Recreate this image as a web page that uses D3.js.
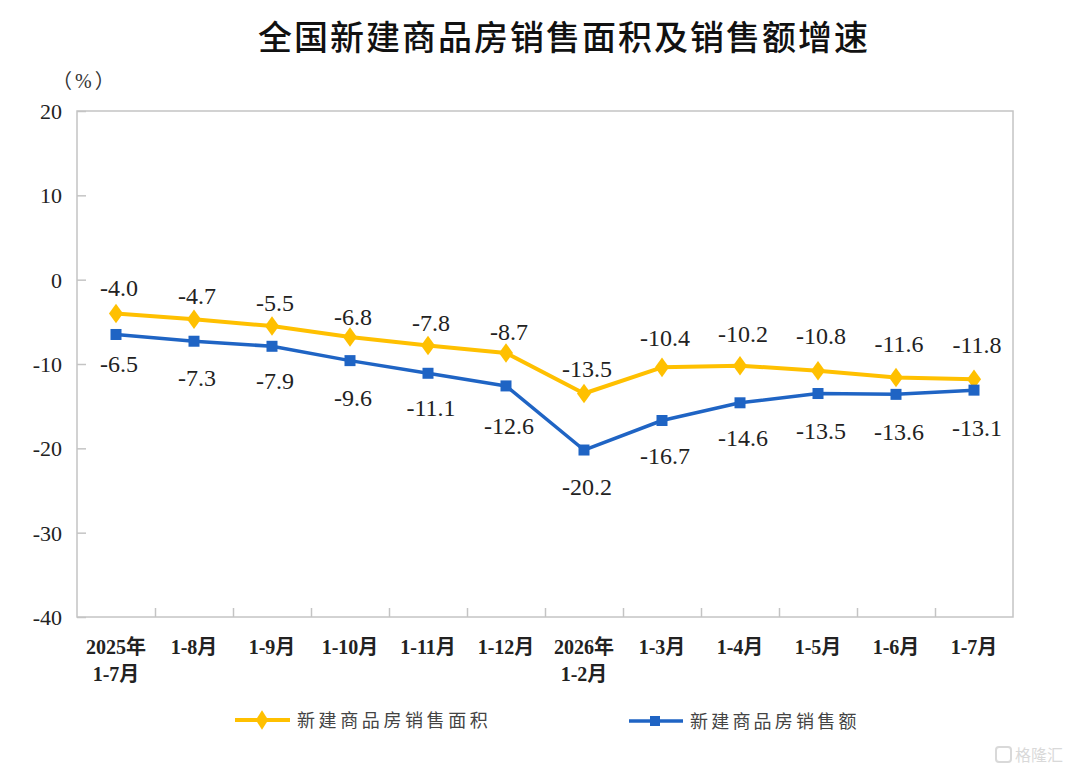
<!DOCTYPE html>
<html><head><meta charset="utf-8">
<script src="https://cdn.jsdelivr.net/npm/d3@7"></script>
<style>
html,body{margin:0;padding:0;background:#fff;}
svg{display:block;}
</style></head>
<body>
<svg id="chart" width="1080" height="776"></svg>
<script>
// ---- data ----
const categories = [["2025年","1-7月"],["1-8月"],["1-9月"],["1-10月"],["1-11月"],["1-12月"],["2026年","1-2月"],["1-3月"],["1-4月"],["1-5月"],["1-6月"],["1-7月"]];
const areaGrowth  = [-4.0,-4.7,-5.5,-6.8,-7.8,-8.7,-13.5,-10.4,-10.2,-10.8,-11.6,-11.8];
const salesGrowth = [-6.5,-7.3,-7.9,-9.6,-11.1,-12.6,-20.2,-16.7,-14.6,-13.5,-13.6,-13.1];
const yTicks = [20,10,0,-10,-20,-30,-40];
const seriesNames = ["新建商品房销售面积","新建商品房销售额"];
const titleText = "全国新建商品房销售面积及销售额增速";
const unitText = "（%）";

// ---- layout (separate from data) ----
const areaLabelDy  = [-26,-24,-23,-20,-23,-21,-25,-30,-32,-35,-34,-35];
const salesLabelDy = [29,36,34,37,34,40,37,35,35,37,37,37];
const m = {left:77, right:1013, top:111, bottom:617};
const YELLOW = "#FFC000", BLUE = "#1F64C4";
const hy = s => String(s).replace(/\u2212/g,"-");

const svg = d3.select("#chart");
const x = d3.scaleBand().domain(d3.range(categories.length)).range([m.left, m.right]).padding(0);
const y = d3.scaleLinear().domain([-40,20]).range([m.bottom, m.top]);
const cx = i => x(i) + x.bandwidth()/2;

// title
svg.append("text").attr("x",564).attr("y",50).attr("text-anchor","middle")
  .attr("font-family","'Noto Sans CJK SC','Noto Sans',sans-serif").attr("font-size",34)
  .attr("font-weight",500).attr("letter-spacing",2).attr("fill","#111").text(titleText);

// unit
svg.append("text").attr("x",52).attr("y",88).attr("text-anchor","start")
  .attr("font-family","'Liberation Serif','Noto Sans CJK SC',serif").attr("font-size",20)
  .attr("letter-spacing",3).attr("fill","#333").text(unitText);

// frame
svg.append("rect").attr("x",m.left).attr("y",m.top).attr("width",m.right-m.left).attr("height",m.bottom-m.top)
  .attr("fill","none").attr("stroke","#c4c4c4").attr("stroke-width",1.5);

// y axis
const yAxis = d3.axisLeft(y).tickValues(yTicks).tickSize(-9).tickPadding(15).tickFormat(d=>hy(d3.format("d")(d)));
const gy = svg.append("g").attr("transform",`translate(${m.left},0)`).call(yAxis);
gy.select(".domain").remove();
gy.selectAll(".tick line").attr("stroke","#c4c4c4").attr("stroke-width",1.5);
gy.selectAll(".tick text").attr("font-family","'Liberation Serif',serif").attr("font-size",22)
  .attr("fill","#222").attr("dy","0.34em");

// x axis: ticks at band boundaries
const xb = d3.scaleLinear().domain([0,categories.length]).range([m.left,m.right]);
const xAxis = d3.axisBottom(xb).tickValues(d3.range(1,categories.length)).tickSize(-9).tickFormat("");
const gx = svg.append("g").attr("transform",`translate(0,${m.bottom})`).call(xAxis);
gx.select(".domain").remove();
gx.selectAll(".tick line").attr("stroke","#c4c4c4").attr("stroke-width",1.5);

// x labels
const xl = svg.append("g").selectAll("text").data(categories).join("text")
  .attr("x",(d,i)=>cx(i)).attr("y",654).attr("text-anchor","middle")
  .attr("font-family","'Liberation Serif','Noto Sans CJK SC',serif").attr("font-size",20)
  .attr("font-weight","bold").attr("fill","#222");
xl.each(function(d){
  const t = d3.select(this);
  d.forEach((line,k)=>{
    t.append("tspan").attr("x",t.attr("x")).attr("dy",k===0?0:27).text(line);
  });
});

// lines
const line = d3.line().x((d,i)=>cx(i)).y(d=>y(d));
svg.append("path").datum(areaGrowth).attr("d",line).attr("fill","none")
  .attr("stroke",YELLOW).attr("stroke-width",4).attr("stroke-linejoin","round");
svg.append("path").datum(salesGrowth).attr("d",line).attr("fill","none")
  .attr("stroke",BLUE).attr("stroke-width",3.5).attr("stroke-linejoin","round");

// markers
const diamond = d3.symbol().type(d3.symbolDiamond).size(110);
svg.append("g").selectAll("path").data(areaGrowth).join("path")
  .attr("d",diamond).attr("transform",(d,i)=>`translate(${cx(i)},${y(d)}) scale(1.25,1)`).attr("fill",YELLOW);
svg.append("g").selectAll("rect").data(salesGrowth).join("rect")
  .attr("x",(d,i)=>cx(i)-5.5).attr("y",d=>y(d)-5.5).attr("width",11).attr("height",11).attr("fill",BLUE);

// data labels
const fmt = d => hy(d3.format(".1f")(d));
svg.append("g").selectAll("text").data(areaGrowth).join("text")
  .attr("x",(d,i)=>cx(i)+3).attr("y",(d,i)=>y(d)+areaLabelDy[i]).attr("dy","0.35em")
  .attr("text-anchor","middle").attr("font-family","'Liberation Serif',serif").attr("font-size",24)
  .attr("fill","#222").text(fmt);
svg.append("g").selectAll("text").data(salesGrowth).join("text")
  .attr("x",(d,i)=>cx(i)+3).attr("y",(d,i)=>y(d)+salesLabelDy[i]).attr("dy","0.35em")
  .attr("text-anchor","middle").attr("font-family","'Liberation Serif',serif").attr("font-size",24)
  .attr("fill","#222").text(fmt);

// legend
const lg = svg.append("g");
lg.append("line").attr("x1",235).attr("x2",290).attr("y1",720).attr("y2",720).attr("stroke",YELLOW).attr("stroke-width",4);
lg.append("path").attr("d",diamond).attr("transform","translate(262,720) scale(1.1,1)").attr("fill",YELLOW);
lg.append("text").attr("x",297).attr("y",727).attr("font-family","'Noto Sans CJK SC',sans-serif")
  .attr("font-size",18).attr("letter-spacing",3.6).attr("fill","#444").text(seriesNames[0]);
lg.append("line").attr("x1",629).attr("x2",683).attr("y1",721).attr("y2",721).attr("stroke",BLUE).attr("stroke-width",3.5);
lg.append("rect").attr("x",650).attr("y",716).attr("width",10).attr("height",10).attr("fill",BLUE);
lg.append("text").attr("x",690).attr("y",728).attr("font-family","'Noto Sans CJK SC',sans-serif")
  .attr("font-size",18).attr("letter-spacing",3.2).attr("fill","#444").text(seriesNames[1]);

// watermark
const wm = svg.append("g").attr("opacity",0.55);
wm.append("rect").attr("x",996).attr("y",747).attr("width",15).attr("height",15).attr("rx",3)
  .attr("fill","none").attr("stroke","#bbb").attr("stroke-width",2);
wm.append("text").attr("x",1015).attr("y",761).attr("font-family","'Noto Sans CJK SC',sans-serif")
  .attr("font-size",16).attr("fill","#bbb").text("格隆汇");
</script>
</body></html>
